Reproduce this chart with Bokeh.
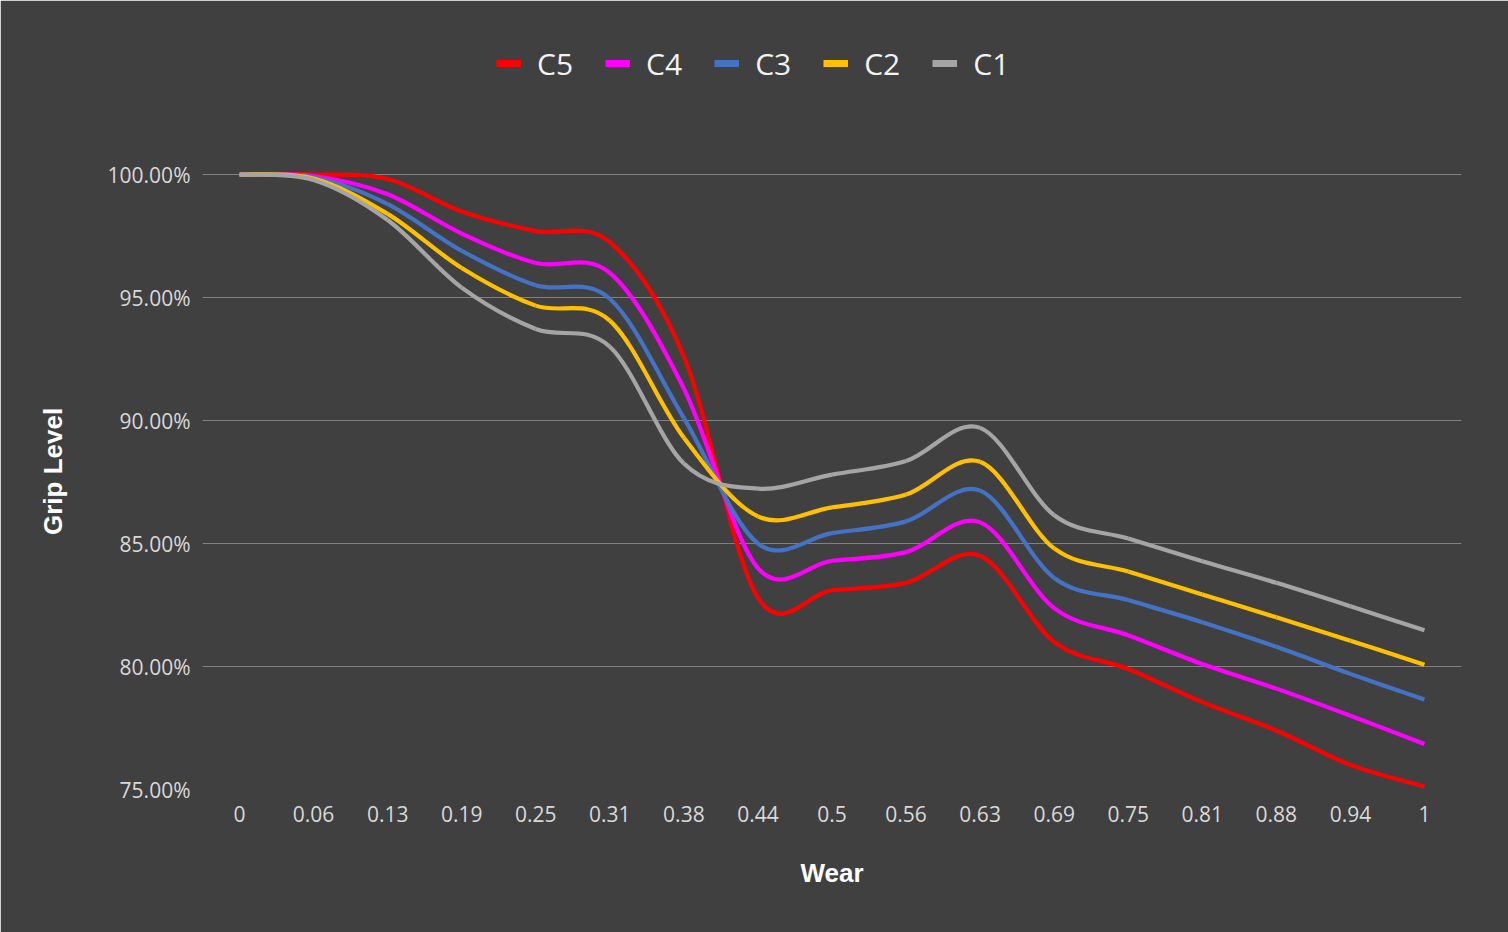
import numpy as np
from bokeh.plotting import figure
from bokeh.models import (ColumnDataSource, FixedTicker, NumeralTickFormatter,
                          Legend, LegendItem, Range1d)
from bokeh.embed import file_html
from bokeh.resources import INLINE

# ---- data ----
wear_labels = ["0", "0.06", "0.13", "0.19", "0.25", "0.31", "0.38", "0.44", "0.5",
               "0.56", "0.63", "0.69", "0.75", "0.81", "0.88", "0.94", "1"]

c5 = [100.0, 100.0, 99.82, 98.5, 97.7, 97.25, 92.6, 82.8, 83.1, 83.4, 84.5,
      81.0, 79.9, 78.55, 77.4, 76.0, 75.12]
c4 = [100.0, 99.94, 99.2, 97.6, 96.4, 96.0, 91.3, 84.0, 84.3, 84.65, 85.86,
      82.37, 81.27, 80.1, 79.1, 78.0, 76.85]
c3 = [100.0, 99.89, 98.8, 96.9, 95.5, 94.95, 90.1, 85.0, 85.42, 85.9, 87.15,
      83.6, 82.7, 81.8, 80.8, 79.7, 78.66]
c2 = [100.0, 99.84, 98.4, 96.2, 94.67, 94.06, 89.3, 86.1, 86.47, 86.99, 88.32,
      84.8, 83.86, 82.93, 82.0, 81.05, 80.07]
c1 = [100.0, 99.78, 98.15, 95.4, 93.72, 93.0, 88.25, 87.23, 87.8, 88.35, 89.7,
      86.15, 85.2, 84.28, 83.4, 82.45, 81.47]

series_names = ["C5", "C4", "C3", "C2", "C1"]
series_values = [c5, c4, c3, c2, c1]
series_colors = ["#FF0000", "#FF00FF", "#4472C4", "#FFC000", "#A5A5A5"]

y_ticks = [0.75, 0.80, 0.85, 0.90, 0.95, 1.00]

BG = "#404040"
NBSP = "\u00a0"


def smooth_segments(vals):
    """Excel-style smoothed line: cubic Bezier between consecutive points."""
    ys = [v / 100.0 for v in vals]
    xs = list(range(len(ys)))
    n = len(ys)
    d = dict(x0=[], y0=[], x1=[], y1=[], cx0=[], cy0=[], cx1=[], cy1=[])
    for i in range(n - 1):
        ip = max(i - 1, 0)
        inx = min(i + 2, n - 1)
        d["x0"].append(xs[i]); d["y0"].append(ys[i])
        d["x1"].append(xs[i + 1]); d["y1"].append(ys[i + 1])
        d["cx0"].append(xs[i] + (xs[i + 1] - xs[ip]) / 6.0)
        d["cy0"].append(ys[i] + (ys[i + 1] - ys[ip]) / 6.0)
        d["cx1"].append(xs[i + 1] - (xs[inx] - xs[i]) / 6.0)
        d["cy1"].append(ys[i + 1] - (ys[inx] - ys[i]) / 6.0)
    return ColumnDataSource(d)


# frame spans from the legend row down to the 75% line; only 75%..100% is gridded
p = figure(width=1508, height=932, output_backend="svg", toolbar_location=None,
           x_range=Range1d(-0.5, 16.5), y_range=Range1d(0.75, 1.0 + 144.0 / 2460.0),
           min_border_left=202, min_border_right=47,
           min_border_top=30, min_border_bottom=143)

p.background_fill_color = BG
p.border_fill_color = BG
# outline in the background colour hides the seam between frame and border fills
p.outline_line_color = BG
p.outline_line_width = 3

# axes
p.xaxis.ticker = FixedTicker(ticks=list(range(len(wear_labels))))
p.xaxis.major_label_overrides = {i: lab for i, lab in enumerate(wear_labels)}
p.yaxis.ticker = FixedTicker(ticks=y_ticks)
p.yaxis.formatter = NumeralTickFormatter(format="0.00%")

for ax in (p.xaxis[0], p.yaxis[0]):
    ax.axis_line_color = None
    ax.major_tick_line_color = None
    ax.minor_tick_line_color = None
    ax.major_tick_in = 0
    ax.major_tick_out = 0
    ax.major_label_text_font = "Open Sans"
    ax.major_label_text_font_size = "21px"
    ax.major_label_text_color = "#D9D9D9"
    ax.axis_label_text_font = "Liberation Sans"
    ax.axis_label_text_font_style = "bold"
    ax.axis_label_text_font_size = "26px"
    ax.axis_label_text_color = "#FFFFFF"

p.xaxis.axis_label = "Wear"
# trailing no-break spaces shift the centred title down to the gridded zone
p.yaxis.axis_label = "Grip Level" + NBSP * 17
p.xaxis.major_label_standoff = 16
p.yaxis.major_label_standoff = 12
p.xaxis.axis_label_standoff = 33
p.yaxis.axis_label_standoff = 37

p.xgrid.grid_line_color = None
p.ygrid.grid_line_color = "#808080"
p.ygrid.grid_line_width = 1

# series
legend_items = []
for name, vals, col in zip(series_names, series_values, series_colors):
    src = smooth_segments(vals)
    p.bezier(x0="x0", y0="y0", x1="x1", y1="y1", cx0="cx0", cy0="cy0",
             cx1="cx1", cy1="cy1", source=src, line_color=col, line_width=4.2)
    dummy = p.line(x=[np.nan], y=[np.nan], line_color=col, line_width=7)
    legend_items.append(LegendItem(label=name, renderers=[dummy]))

legend = Legend(items=legend_items, orientation="horizontal",
                location=(294, 704),
                glyph_width=25, glyph_height=44, label_height=44,
                label_standoff=16, spacing=32, padding=0, margin=0,
                label_text_font="Open Sans", label_text_font_size="30px",
                label_text_color="#F2F2F2",
                background_fill_alpha=0, border_line_alpha=0)
p.add_layout(legend, "center")

open("out.html", "w").write(file_html(p, INLINE))
